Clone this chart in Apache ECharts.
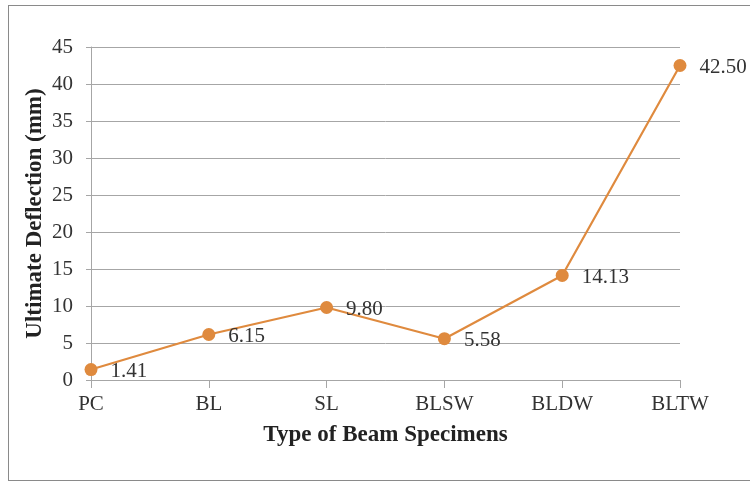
<!DOCTYPE html>
<html><head><meta charset="utf-8">
<script src="https://cdn.jsdelivr.net/npm/echarts@6/dist/echarts.min.js"></script>
<style>html,body{margin:0;padding:0;background:#fff}#c{width:750px;height:482px;position:relative}
#frame{position:absolute;left:8px;top:5px;width:760px;height:476px;border:1.5px solid #8a8a8a;box-sizing:border-box;pointer-events:none}</style>
</head><body><div id="c"></div><div id="frame"></div>
<script>
const categories = ['PC','BL','SL','BLSW','BLDW','BLTW'];
const deflection = [1.41, 6.15, 9.80, 5.58, 14.13, 42.50];
const yTicks = [0,5,10,15,20,25,30,35,40,45];

const chart = echarts.init(document.getElementById('c'), null, {renderer:'canvas'});
const font = '"Liberation Serif", "Times New Roman", serif';
chart.setOption({
  animation:false,
  grid:{left:91,right:70,top:47,bottom:102,containLabel:false},
  xAxis:{
    type:'category', data:categories, boundaryGap:false,
    axisLine:{lineStyle:{color:'#a6a6a6',width:1}},
    axisTick:{show:true,alignWithLabel:true,length:8,lineStyle:{color:'#a6a6a6'}},
    axisLabel:{color:'#333',fontFamily:font,fontSize:21,margin:14},
    name:'Type of Beam Specimens', nameLocation:'middle', nameGap:44,
    nameTextStyle:{color:'#222',fontFamily:font,fontSize:23,fontWeight:'bold'}
  },
  yAxis:{
    type:'value', min:yTicks[0], max:yTicks[yTicks.length-1], interval:5,
    axisLine:{show:true,lineStyle:{color:'#a6a6a6'}},
    axisTick:{show:true,length:5,lineStyle:{color:'#a6a6a6'}},
    splitLine:{lineStyle:{color:'#a6a6a6',width:1}},
    axisLabel:{color:'#333',fontFamily:font,fontSize:21,margin:18},
    name:'Ultimate Deflection (mm)', nameLocation:'middle', nameGap:44, nameRotate:90,
    nameMoveOverlap:false,
    nameTextStyle:{color:'#222',fontFamily:font,fontSize:23,fontWeight:'bold'}
  },
  series:[{
    type:'line', data:deflection, symbol:'circle', symbolSize:13,
    lineStyle:{color:'#df8a3e',width:2.2},
    itemStyle:{color:'#df8a3e'},
    label:{show:true,position:'right',distance:13,offset:[0,2],color:'#333',fontFamily:font,fontSize:21,
      formatter:p=>p.value.toFixed(2)}
  }]
});
</script></body></html>
